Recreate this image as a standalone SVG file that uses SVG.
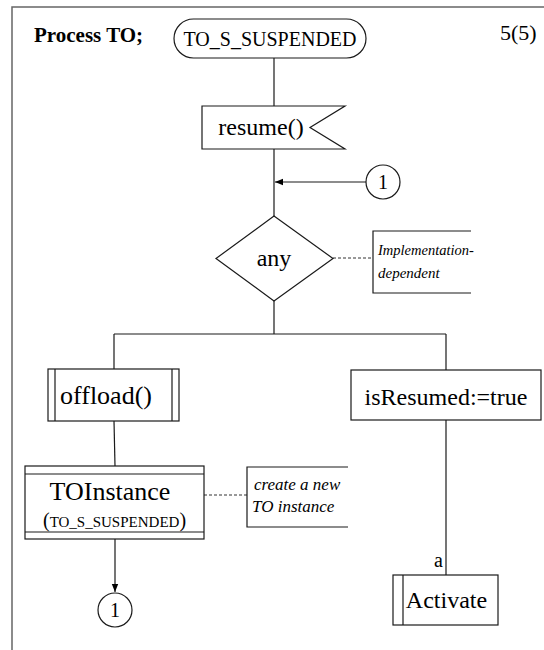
<svg xmlns="http://www.w3.org/2000/svg" width="544" height="650" viewBox="0 0 544 650">
  <style>
    .ln { fill: none; stroke: #1a1a1a; stroke-width: 1.2; }
    .box { fill: #fff; stroke: #1a1a1a; stroke-width: 1.2; }
    .dash { fill: none; stroke: #333; stroke-width: 1; stroke-dasharray: 3 2; }
    .t { fill: #000; }
    .c { text-anchor: middle; }
    .it { font-style: italic; }
  </style>
  <defs>
    <marker id="arr" viewBox="0 0 8 8" refX="8" refY="4" markerWidth="8" markerHeight="8" markerUnits="userSpaceOnUse" orient="auto">
      <path d="M0,0.8 L8,4 L0,7.2 Z" fill="#000"/>
    </marker>
  </defs>
  <rect width="544" height="650" fill="#fff"/>

  <g font-family="'Liberation Serif', 'Times New Roman', 'DejaVu Serif', serif">
  <!-- page frame -->
  <path d="M12,650 V7 H544" fill="none" stroke="#666" stroke-width="1.5"/>
  <text class="t" x="34" y="42" font-size="21" font-weight="bold">Process TO;</text>
  <text class="t" x="500" y="40" font-size="22">5(5)</text>

  <!-- connectors -->
  <g id="connectors">
    <line class="ln" x1="274" y1="58" x2="274" y2="106"/>
    <line class="ln" x1="274" y1="149" x2="274" y2="216"/>
    <line class="ln" x1="366" y1="182" x2="275" y2="182" marker-end="url(#arr)"/>
    <line class="ln" x1="274" y1="301" x2="274" y2="334"/>
    <line class="ln" x1="114" y1="334" x2="446" y2="334"/>
    <line class="ln" x1="114" y1="334" x2="114" y2="369"/>
    <line class="ln" x1="114" y1="421" x2="115" y2="466"/>
    <line class="ln" x1="115" y1="539" x2="115" y2="592" marker-end="url(#arr)"/>
    <line class="ln" x1="446" y1="334" x2="446" y2="370"/>
    <line class="ln" x1="446" y1="420" x2="446" y2="575"/>
    <line class="dash" x1="333" y1="258" x2="373" y2="258"/>
    <line class="dash" x1="204" y1="495" x2="247" y2="495"/>
    <text class="t" x="443" y="567" font-size="20" text-anchor="end">a</text>
  </g>

  <!-- start state -->
  <g id="start">
    <rect class="box" x="174" y="19" width="192" height="39" rx="19.5" ry="19.5"/>
    <text class="t c" x="270" y="46" font-size="20">TO_S_SUSPENDED</text>
  </g>

  <!-- input signal -->
  <g id="resume">
    <path class="box" d="M202,106 H345 L310,127.5 L345,149 H202 Z"/>
    <text class="t c" x="261" y="135" font-size="24">resume()</text>
  </g>

  <!-- connector in -->
  <g id="conn-in">
    <circle class="box" cx="383" cy="182" r="17"/>
    <text class="t c" x="383" y="189" font-size="20">1</text>
  </g>

  <!-- decision -->
  <g id="decision">
    <path class="box" d="M274,216 L333,258.5 L274,301 L216,258.5 Z"/>
    <text class="t c" x="274" y="266" font-size="24">any</text>
  </g>

  <!-- comment on decision -->
  <g id="note-any">
    <path class="ln" d="M471,231 H373 V293 H471"/>
    <text class="t it" x="378" y="255" font-size="14.5">Implementation-</text>
    <text class="t it" x="378" y="278" font-size="15">dependent</text>
  </g>

  <!-- procedure call -->
  <g id="offload">
    <rect class="box" x="48" y="369" width="131" height="52"/>
    <line class="ln" x1="55" y1="369" x2="55" y2="421"/>
    <line class="ln" x1="172" y1="369" x2="172" y2="421"/>
    <text class="t c" x="106" y="404" font-size="26">offload()</text>
  </g>

  <!-- create request -->
  <g id="toinstance">
    <rect class="box" x="25" y="466" width="179" height="73"/>
    <line class="ln" x1="25" y1="474" x2="204" y2="474"/>
    <line class="ln" x1="25" y1="532" x2="204" y2="532"/>
    <text class="t c" x="110" y="500" font-size="26">TOInstance</text>
    <text class="t c" x="114.5" y="527" font-size="20">(<tspan font-size="15">TO_S_SUSPENDED</tspan>)</text>
  </g>

  <!-- comment on create -->
  <g id="note-create">
    <path class="ln" d="M348,467 H247 V527 H348"/>
    <text class="t it" x="254" y="490" font-size="17">create a new</text>
    <text class="t it" x="252" y="512" font-size="17">TO instance</text>
  </g>

  <!-- connector out -->
  <g id="conn-out">
    <circle class="box" cx="115" cy="610" r="17"/>
    <text class="t c" x="115" y="617" font-size="20">1</text>
  </g>

  <!-- task -->
  <g id="resumed">
    <rect class="box" x="351" y="370" width="190" height="50"/>
    <text class="t c" x="446" y="405" font-size="24">isResumed:=true</text>
  </g>

  <!-- macro call -->
  <g id="activate">
    <rect class="box" x="393" y="575" width="105" height="50"/>
    <line class="ln" x1="403" y1="575" x2="403" y2="625"/>
    <text class="t c" x="446.5" y="608" font-size="24">Activate</text>
  </g>
  </g>
</svg>
